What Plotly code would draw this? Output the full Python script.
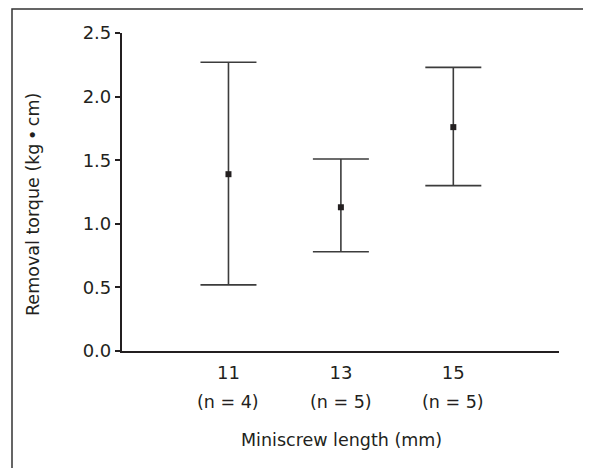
import plotly.graph_objects as go

lengths = ["11", "13", "15"]
n_labels = ["(n = 4)", "(n = 5)", "(n = 5)"]
means = [1.39, 1.13, 1.76]
upper = [2.27, 1.51, 2.23]
lower = [0.52, 0.78, 1.30]

xpos = list(range(len(lengths)))
err_plus = [u - m for u, m in zip(upper, means)]
err_minus = [m - l for m, l in zip(means, lower)]

ink = "#231f20"
font_family = "DejaVu Sans, Liberation Sans, Arial, sans-serif"

# page body has an 8px offset; figure coordinates = screen - 8
OFF = 8
W, H = 591 - OFF, 468 - OFF
L, T = 122 - OFF, 33 - OFF
R = W - (559 - OFF)
B = H - (351 - OFF)
pw, ph = W - L - R, H - T - B

def px(x):
    return (x - OFF - L) / pw

def py(y):
    return (H - B - (y - OFF)) / ph

fig = go.Figure()
fig.add_trace(go.Scatter(
    x=xpos, y=means, mode="markers",
    marker=dict(symbol="square", size=6, color=ink),
    error_y=dict(type="data", symmetric=False, array=err_plus, arrayminus=err_minus,
                 width=28, thickness=1.6, color="#3c3c3c"),
    showlegend=False, hoverinfo="skip",
))

for i, lab in enumerate(n_labels):
    fig.add_annotation(x=xpos[i], y=py(402), xref="x", yref="paper", text=lab,
                       showarrow=False, yanchor="middle", xanchor="center",
                       font=dict(size=17.5, color=ink, family=font_family))

fig.add_annotation(x=px(341), y=py(440), xref="paper", yref="paper",
                   text="Miniscrew length (mm)", showarrow=False,
                   yanchor="middle", xanchor="center",
                   font=dict(size=17.5, color=ink, family=font_family))
fig.add_annotation(x=px(33), y=py(205), xref="paper", yref="paper",
                   text="Removal torque (kg\u2009\u2022\u2009cm)", showarrow=False, textangle=-90,
                   yanchor="middle", xanchor="center",
                   font=dict(size=17.5, color=ink, family=font_family))

# outer frame
fig.add_shape(type="rect", xref="paper", yref="paper",
              x0=px(12), x1=px(620), y0=py(500), y1=py(9),
              line=dict(color="#333333", width=1.5), fillcolor="rgba(0,0,0,0)")

fig.update_layout(
    width=W, height=H,
    margin=dict(l=L, r=R, t=T, b=B),
    plot_bgcolor="white", paper_bgcolor="white",
    font=dict(family=font_family, size=18, color=ink),
    xaxis=dict(range=[-0.947, 2.94], tickmode="array", tickvals=xpos, ticktext=lengths,
               showline=True, linecolor=ink, linewidth=2.2, ticks="", showgrid=False,
               zeroline=False, tickfont=dict(size=18), ticklabelstandoff=4),
    yaxis=dict(range=[0, 2.5], tickmode="array", tickvals=[0, 0.5, 1.0, 1.5, 2.0, 2.5],
               tickformat=".1f", showline=True, linecolor=ink, linewidth=2.2,
               ticks="outside", ticklen=5, tickwidth=2, tickcolor=ink,
               showgrid=False, zeroline=False, tickfont=dict(size=18)),
)

fig.write_html("out.html")
